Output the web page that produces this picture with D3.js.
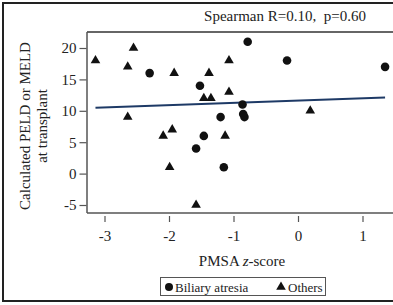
<!DOCTYPE html>
<html><head><meta charset="utf-8">
<script src="https://cdn.jsdelivr.net/npm/d3@7"></script>
<style>body{margin:0;background:#fff}svg{display:block}text{white-space:pre}</style>
</head><body>
<script>
const xTicks = [-3, -2, -1, 0, 1];
const yTicks = [-5, 0, 5, 10, 15, 20];
const biliaryX = [-2.30, -1.52, -1.46, -1.58, -1.20, -1.15, -0.86, -0.85, -0.83, -0.78, -0.17, 1.35];
const biliaryY = [16, 14, 6, 4, 9, 1, 11, 9.5, 9, 21, 18, 17];
const othersX = [-3.14, -2.55, -2.64, -2.64, -1.92, -2.09, -1.95, -1.99, -1.58, -1.38, -1.46, -1.35, -1.07, -1.07, -1.13, 0.19];
const othersY = [18, 20, 17, 9, 16, 6, 7, 1, -5, 16, 12, 12, 18, 13, 6, 10];
const fitX = [-3.14, 1.35];
const fitY = [10.5, 12.1];
const title = "Spearman R=0.10,  p=0.60";

(function () {
const W = 393, H = 305;
const svg = d3.select("body").append("svg").attr("width", W).attr("height", H);
const serif = "'Liberation Serif','DejaVu Serif',serif";
const fmt = d => String(d);

svg.append("rect").attr("x", 3).attr("y", 3).attr("width", 420).attr("height", 298)
  .attr("fill", "none").attr("stroke", "#222").attr("stroke-width", 2);

const x = d3.scaleLinear().domain([-3, 1]).range([104.5, 362.5]);
const y = d3.scaleLinear().domain([-5, 20]).range([205, 48]);
const pl = 87, pt = 32, pb = 213;

svg.append("line").attr("x1", pl).attr("x2", 400).attr("y1", pt).attr("y2", pt).attr("stroke", "#333").attr("stroke-width", 1.5);
svg.append("line").attr("x1", pl).attr("x2", pl).attr("y1", pt).attr("y2", pb).attr("stroke", "#555").attr("stroke-width", 1.5);
svg.append("line").attr("x1", pl).attr("x2", 400).attr("y1", pb).attr("y2", pb).attr("stroke", "#555").attr("stroke-width", 1.5);

const yAx = svg.append("g").attr("transform", `translate(${pl - 0.5},0)`)
  .call(d3.axisLeft(y).tickValues(yTicks).tickFormat(fmt).tickSize(7).tickPadding(3));
yAx.select(".domain").remove();
yAx.selectAll("line").attr("stroke", "#555").attr("stroke-width", 1.2);
yAx.selectAll("text").attr("font-family", serif).attr("font-size", 15).attr("fill", "#222");

const xAx = svg.append("g").attr("transform", `translate(0,${pb + 3})`)
  .call(d3.axisBottom(x).tickValues(xTicks).tickFormat(fmt).tickSize(6).tickPadding(8));
xAx.select(".domain").remove();
xAx.selectAll("line").attr("stroke", "#555").attr("stroke-width", 1.2);
xAx.selectAll("text").attr("font-family", serif).attr("font-size", 15).attr("fill", "#222");

svg.append("line").attr("x1", x(fitX[0])).attr("y1", y(fitY[0])).attr("x2", x(fitX[1])).attr("y2", y(fitY[1]))
  .attr("stroke", "#1e3a66").attr("stroke-width", 2);

svg.append("g").selectAll("circle").data(biliaryX.map((v, i) => [v, biliaryY[i]])).join("circle")
  .attr("cx", d => x(d[0])).attr("cy", d => y(d[1])).attr("r", 4.3).attr("fill", "#111");
const tri = d3.symbol().type(d3.symbolTriangle).size(40);
svg.append("g").selectAll("path").data(othersX.map((v, i) => [v, othersY[i]])).join("path")
  .attr("d", tri).attr("transform", d => `translate(${x(d[0])},${y(d[1])})`).attr("fill", "#111");

svg.append("text").attr("x", 285).attr("y", 21).attr("text-anchor", "middle")
  .attr("font-family", serif).attr("font-size", 15).attr("fill", "#222").text(title);

const xl = svg.append("text").attr("x", 242).attr("y", 266).attr("text-anchor", "middle")
  .attr("font-family", serif).attr("font-size", 15).attr("fill", "#222");
xl.append("tspan").text("PMSA ");
xl.append("tspan").attr("font-style", "italic").text("z");
xl.append("tspan").text("-score");

const yl = svg.append("text").attr("transform", "translate(0,126) rotate(-90)")
  .attr("text-anchor", "middle").attr("font-family", serif).attr("font-size", 15).attr("fill", "#222");
yl.append("tspan").attr("x", 0).attr("y", 30).text("Calculated PELD or MELD");
yl.append("tspan").attr("x", 0).attr("y", 47).text("at transplant");

svg.append("rect").attr("x", 160.5).attr("y", 277.5).attr("width", 165).attr("height", 18)
  .attr("fill", "none").attr("stroke", "#555").attr("stroke-width", 1);
svg.append("circle").attr("cx", 169).attr("cy", 287).attr("r", 4).attr("fill", "#111");
svg.append("text").attr("x", 175).attr("y", 291.5).attr("font-family", serif).attr("font-size", 13).attr("fill", "#222").text("Biliary atresia");
svg.append("path").attr("d", tri).attr("transform", "translate(281,287)").attr("fill", "#111");
svg.append("text").attr("x", 288).attr("y", 291.5).attr("font-family", serif).attr("font-size", 13).attr("fill", "#222").text("Others");
})();
</script>
</body></html>
